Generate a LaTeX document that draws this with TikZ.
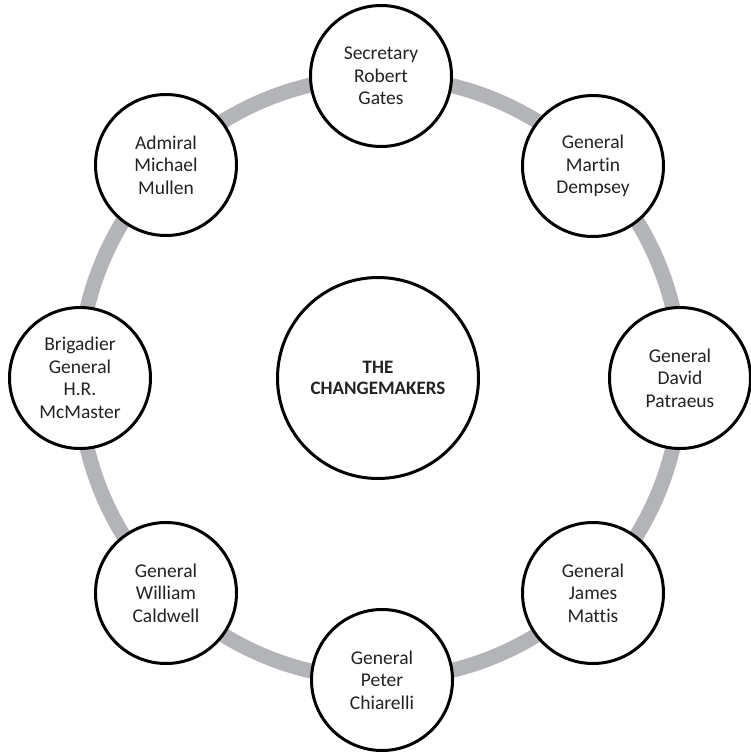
\documentclass[tikz,border=0pt]{standalone}
\usepackage{fontspec}
\setmainfont[Ligatures=NoCommon,RawFeature=-liga]{Carlito}
\definecolor{ringgray}{RGB}{178,180,184}
\definecolor{textgray}{RGB}{35,35,35}
\tikzset{
  person/.style={circle, draw=black, line width=3pt, fill=white, minimum size=141pt, inner sep=0pt,
    align=center, font=\fontsize{19.5}{22.5}\selectfont, text=textgray},
  hub/.style={circle, draw=black, line width=3pt, fill=white, minimum size=201pt, inner sep=0pt,
    align=center, font=\fontsize{19}{21}\selectfont\bfseries, text=textgray},
  ring/.style={draw=ringgray, line width=15pt}
}
\begin{document}
\begin{tikzpicture}[x=1pt,y=-1pt]
\clip (0,0) rectangle (751,755);
\fill[white] (0,0) rectangle (751,755);
\coordinate (c) at (380,378);
\draw[ring] (c) circle [radius=301];
\node[hub] (hub) at (378,378) {THE\\CHANGEMAKERS};
\node[person] (gates) at (381,76) {Secretary\\Robert\\Gates};
\node[person] (dempsey) at (593,166) {General\\Martin\\Dempsey};
\node[person] (patraeus) at (680,378) {General\\David\\Patraeus};
\node[person] (mattis) at (593,593) {General\\James\\Mattis};
\node[person] (chiarelli) at (382,680) {General\\Peter\\Chiarelli};
\node[person] (caldwell) at (166,593) {General\\William\\Caldwell};
\node[person] (mcmaster) at (80,378) {Brigadier\\General\\H.R.\\McMaster};
\node[person] (mullen) at (166,165) {Admiral\\Michael\\Mullen};
\end{tikzpicture}
\end{document}
